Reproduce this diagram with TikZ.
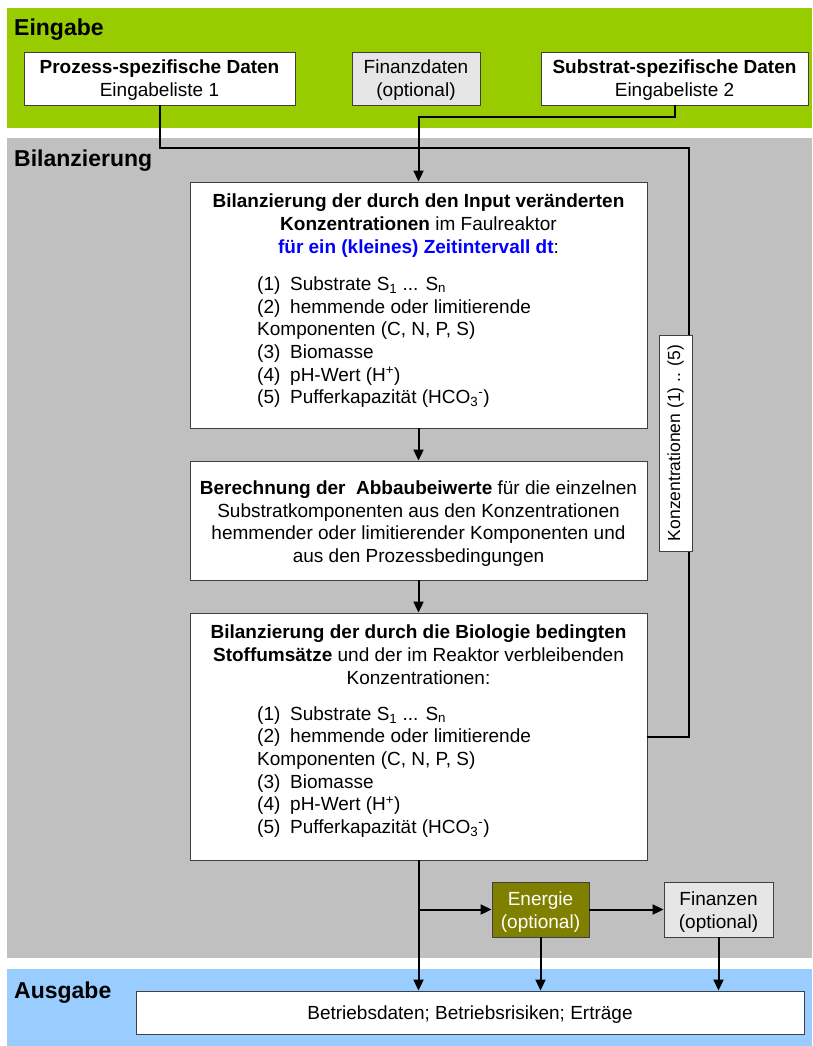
\documentclass[tikz,border=0pt]{standalone}
\usepackage{fontspec}
\setmainfont{Liberation Sans}
\usetikzlibrary{arrows.meta}
\definecolor{bandgreen}{HTML}{99CC00}
\definecolor{bandgray}{HTML}{C0C0C0}
\definecolor{bandblue}{HTML}{99CCFF}
\definecolor{energyolive}{HTML}{808000}
\definecolor{lightbox}{HTML}{E6E6E6}
\definecolor{textblue}{HTML}{0000FF}
\begin{document}
\begin{tikzpicture}[x=1pt,y=-1pt,
  font=\fontsize{19}{23}\selectfont,
  box/.style={draw=black!75, line width=0.9pt, fill=white, inner sep=0pt, minimum height=#1},
  box/.default=53pt,
  txt/.style={anchor=base, inner sep=0pt},
  ltxt/.style={anchor=base west, inner sep=0pt},
  head/.style={anchor=base west, inner sep=0pt, font=\fontsize{23}{27}\selectfont\bfseries},
  conn/.style={line width=2pt, black},
  arr/.style={conn, -{Triangle[length=11pt,width=10pt]}},
  lbl/.style={draw=black!75, line width=0.9pt, fill=white, inner sep=0pt, rotate=90,
              minimum width=216pt, minimum height=33pt, font=\fontsize{17.5}{21}\selectfont}
]
\useasboundingbox (0,0) rectangle (812,1046);
\fill[white] (0,0) rectangle (812,1046);
% bands
\fill[bandgreen] (7,8) rectangle (812,128);
\fill[bandgray] (7,138) rectangle (812,958);
\fill[bandblue] (7,969) rectangle (812,1046);
\node[head] (hEin) at (14,36) {Eingabe};
\node[head] (hBil) at (14,166) {Bilanzierung};
\node[head] (hAus) at (14,998) {Ausgabe};

% input boxes
\node[box, minimum width=271pt] (proz) at (159.5,78.5) {};
\node[txt] (prozA) at (159.5,73.5) {\textbf{Prozess-spezifische Daten}};
\node[txt] (prozB) at (159.5,97) {Eingabeliste 1};
\node[box, fill=lightbox, minimum width=128pt] (fin) at (416,78.5) {};
\node[txt] (finA) at (416,73.5) {Finanzdaten};
\node[txt] (finB) at (416,97) {(optional)};
\node[box, minimum width=267pt] (subs) at (674.5,78.5) {};
\node[txt] (subsA) at (674.5,73.5) {\textbf{Substrat-spezifische Daten}};
\node[txt] (subsB) at (674.5,97) {Eingabeliste 2};

% box 1
\node[box=246pt, minimum width=457pt] (b1) at (418.5,305) {};
\node[txt] (b1t1) at (418.5,207) {\textbf{Bilanzierung der durch den Input veränderten}};
\node[txt] (b1t2) at (418.5,230) {\textbf{Konzentrationen} im Faulreaktor};
\node[txt] (b1t3) at (418.5,253) {\textcolor{textblue}{\textbf{für ein (kleines) Zeitintervall dt}}:};
\node[ltxt] (b1l1) at (257,290) {\makebox[33pt][l]{(1)}Substrate S\textsubscript{1} ... S\textsubscript{n}};
\node[ltxt] (b1l2) at (257,313) {\makebox[33pt][l]{(2)}hemmende oder limitierende};
\node[ltxt] (b1l3) at (257,335) {Komponenten (C, N, P, S)};
\node[ltxt] (b1l4) at (257,358) {\makebox[33pt][l]{(3)}Biomasse};
\node[ltxt] (b1l5) at (257,381) {\makebox[33pt][l]{(4)}pH-Wert (H\textsuperscript{+})};
\node[ltxt] (b1l6) at (257,403) {\makebox[33pt][l]{(5)}Pufferkapazität (HCO\textsubscript{3}\textsuperscript{-})};

% box 2
\node[box=119pt, minimum width=457pt] (b2) at (418.5,520.5) {};
\node[txt] (b2t1) at (418.5,494) {\textbf{Berechnung der\ \ Abbaubeiwerte} für die einzelnen};
\node[txt] (b2t2) at (418.5,517) {Substratkomponenten aus den Konzentrationen};
\node[txt] (b2t3) at (418.5,539) {hemmender oder limitierender Komponenten und};
\node[txt] (b2t4) at (418.5,562) {aus den Prozessbedingungen};

% box 3
\node[box=247pt, minimum width=457pt] (b3) at (418.5,736.5) {};
\node[txt] (b3t1) at (418.5,638) {\textbf{Bilanzierung der durch die Biologie bedingten}};
\node[txt] (b3t2) at (418.5,661) {\textbf{Stoffumsätze} und der im Reaktor verbleibenden};
\node[txt] (b3t3) at (418.5,684) {Konzentrationen:};
\node[ltxt] (b3l1) at (257,720) {\makebox[33pt][l]{(1)}Substrate S\textsubscript{1} ... S\textsubscript{n}};
\node[ltxt] (b3l2) at (257,742.5) {\makebox[33pt][l]{(2)}hemmende oder limitierende};
\node[ltxt] (b3l3) at (257,765) {Komponenten (C, N, P, S)};
\node[ltxt] (b3l4) at (257,788) {\makebox[33pt][l]{(3)}Biomasse};
\node[ltxt] (b3l5) at (257,810.5) {\makebox[33pt][l]{(4)}pH-Wert (H\textsuperscript{+})};
\node[ltxt] (b3l6) at (257,833) {\makebox[33pt][l]{(5)}Pufferkapazität (HCO\textsubscript{3}\textsuperscript{-})};

% output side boxes
\node[box=55pt, fill=energyolive, minimum width=97pt] (en) at (540.5,909.5) {};
\node[txt, text=white] (enA) at (540.5,905) {Energie};
\node[txt, text=white] (enB) at (540.5,928) {(optional)};
\node[box=55pt, fill=lightbox, minimum width=109pt] (fz) at (718.5,909.5) {};
\node[txt] (fzA) at (718.5,905) {Finanzen};
\node[txt] (fzB) at (718.5,928) {(optional)};
\node[box=43pt, minimum width=668pt] (aus) at (470,1012.5) {};
\node[txt] (ausT) at (470,1019) {Betriebsdaten; Betriebsrisiken; Erträge};

% connectors
\coordinate (c1) at (689,148);
\coordinate (c2) at (418.5,117);
\draw[conn] (proz.south) |- (c1) |- (b3.east);
\draw[arr] (subs.south) |- (c2) -- (b1.north);
\draw[arr] (b1.south) -- (b2.north);
\draw[arr] (b2.south) -- (b3.north);
\draw[arr] (b3.south) -- (b3.south |- aus.north);
\draw[arr] (b3.south |- en.west) -- (en.west);
\draw[arr] (en.east) -- (fz.west);
\draw[arr] (en.south) -- (en.south |- aus.north);
\draw[arr] (fz.south) -- (fz.south |- aus.north);

% label on the return line
\node[lbl] (konz) at (675.5,443) {Konzentrationen (1) .. (5)};
\end{tikzpicture}
\end{document}
